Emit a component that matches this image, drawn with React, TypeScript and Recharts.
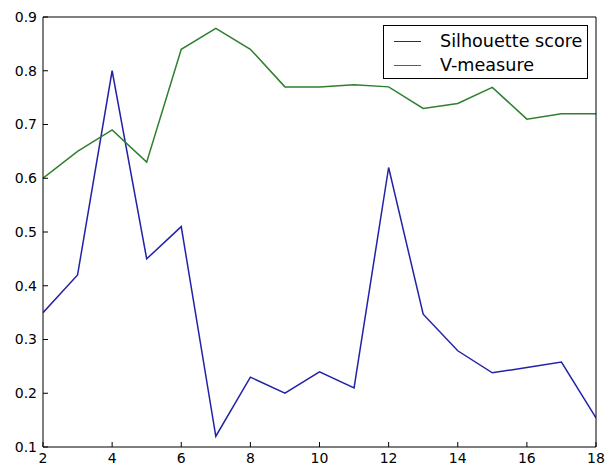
import React from "react";
import { LineChart, Line, XAxis, YAxis, Legend } from "recharts";

const clusters = [2, 3, 4, 5, 6, 7, 8, 9, 10, 11, 12, 13, 14, 15, 16, 17, 18];
const silhouette = [0.35, 0.42, 0.8, 0.45, 0.51, 0.12, 0.23, 0.2, 0.24, 0.21, 0.62, 0.347, 0.279, 0.238, 0.248, 0.258, 0.154];
const vMeasure = [0.6, 0.65, 0.69, 0.63, 0.84, 0.879, 0.84, 0.77, 0.77, 0.774, 0.77, 0.73, 0.739, 0.769, 0.71, 0.72, 0.72];
const xTicks = [2, 4, 6, 8, 10, 12, 14, 16, 18];
const yTicks = [0.1, 0.2, 0.3, 0.4, 0.5, 0.6, 0.7, 0.8, 0.9];

const data = clusters.map((k, i) => ({ k, silhouette: silhouette[i], vmeasure: vMeasure[i] }));

const FONT = "'DejaVu Sans', sans-serif";
const BLUE = "#2222a8";
const GREEN = "#2f7f2f";

const LegendBox = (props: any) => {
  const items = props.payload || [];
  return (
    <div
      style={{
        width: 205,
        height: 54,
        border: "1px solid #000",
        background: "#fff",
        boxSizing: "border-box",
        fontFamily: FONT,
        fontSize: 17.6,
        color: "#000",
        paddingTop: 3,
      }}
    >
      {items.map((it: any) => (
        <div key={it.value} style={{ display: "flex", alignItems: "center", height: 24 }}>
          <div style={{ width: 27, height: 0, borderTop: `1.5px solid ${it.color}`, marginLeft: 10, marginRight: 19 }} />
          <span style={{ lineHeight: "24px" }}>{it.value}</span>
        </div>
      ))}
    </div>
  );
};

export default function App() {
  return (
    <div style={{ position: "absolute", left: 0, top: 0, width: 612, height: 466, background: "#fff" }}>
      <LineChart width={612} height={466} data={data} margin={{ top: 16, right: 15, left: 0, bottom: 0 }}>
        <XAxis
          dataKey="k"
          type="number"
          domain={[2, 18]}
          ticks={xTicks}
          allowDataOverflow
          height={19}
          tickSize={-5}
          tickMargin={11}
          stroke="#000"
          tickLine={{ stroke: "#000" }}
          axisLine={{ stroke: "#000" }}
          tick={{ fill: "#000", fontFamily: FONT, fontSize: 14 }}
        />
        <XAxis
          xAxisId="top"
          dataKey="k"
          type="number"
          orientation="top"
          domain={[2, 18]}
          ticks={xTicks}
          height={1}
          tickSize={-5}
          tick={false}
          stroke="#000"
          tickLine={{ stroke: "#000" }}
          axisLine={{ stroke: "#000" }}
        />
        <YAxis
          type="number"
          domain={[0.1, 0.9]}
          ticks={yTicks}
          allowDataOverflow
          width={43}
          tickSize={-5}
          tickMargin={11}
          stroke="#000"
          tickLine={{ stroke: "#000" }}
          axisLine={{ stroke: "#000" }}
          tick={{ fill: "#000", fontFamily: FONT, fontSize: 14 }}
          tickFormatter={(v: number) => v.toFixed(1)}
        />
        <YAxis
          yAxisId="right"
          type="number"
          orientation="right"
          domain={[0.1, 0.9]}
          ticks={yTicks}
          width={1}
          tickSize={-5}
          tick={false}
          stroke="#000"
          tickLine={{ stroke: "#000" }}
          axisLine={{ stroke: "#000" }}
        />
        <Legend
          content={<LegendBox />}
          layout="vertical"
          align="center"
          verticalAlign="middle"
          wrapperStyle={{ position: "absolute", left: 383, top: 25, width: 205, height: 54 }}
        />
        <Line
          dataKey="silhouette"
          name="Silhouette score"
          stroke={BLUE}
          strokeWidth={1.5}
          dot={false}
          activeDot={false}
          isAnimationActive={false}
        />
        <Line
          dataKey="vmeasure"
          name="V-measure"
          stroke={GREEN}
          strokeWidth={1.5}
          dot={false}
          activeDot={false}
          isAnimationActive={false}
        />
      </LineChart>
    </div>
  );
}
